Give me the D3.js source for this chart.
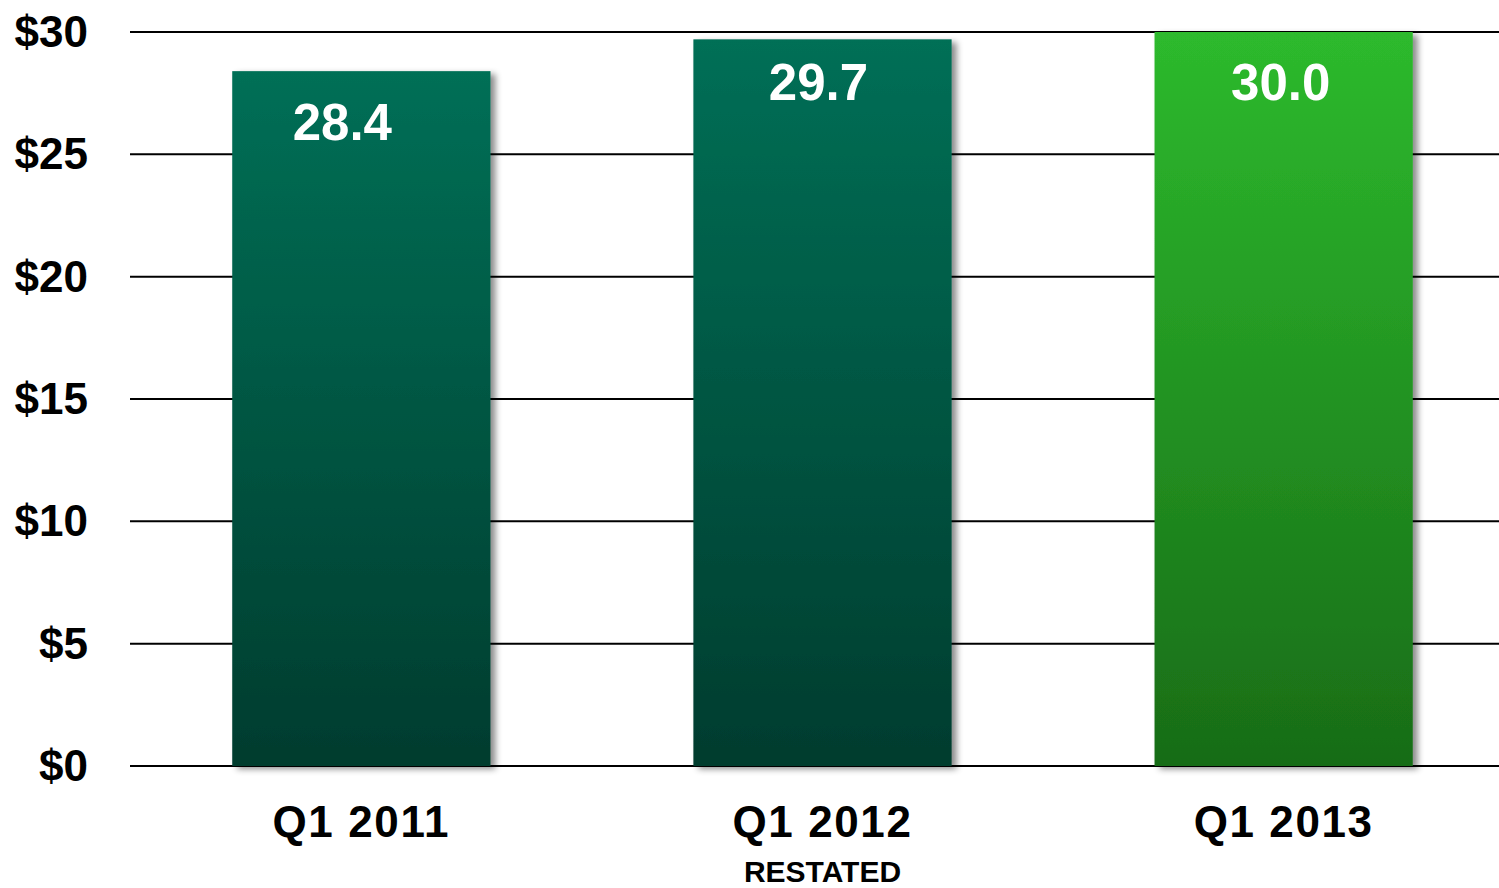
<!DOCTYPE html>
<html><head><meta charset="utf-8">
<script src="https://cdn.jsdelivr.net/npm/d3@7"></script>
<style>html,body{margin:0;padding:0;background:#fff;}svg{display:block;}</style>
</head><body>
<svg id="c" width="1499" height="888"></svg>
<script>
const categories = ["Q1 2011", "Q1 2012", "Q1 2013"];
const subLabels = ["", "RESTATED", ""];
const values = [28.4, 29.7, 30.0];
const valueLabels = ["28.4", "29.7", "30.0"];
const tickValues = [0, 5, 10, 15, 20, 25, 30];
const tickLabels = ["$0", "$5", "$10", "$15", "$20", "$25", "$30"];

const svg = d3.select("#c");
const font = "'Liberation Sans', Arial, sans-serif";
const x = d3.scaleBand().domain(categories).range([140, 1505]).paddingInner(0.44).paddingOuter(0.2);
const y = d3.scaleLinear().domain([0, 30]).range([766, 32]);

const defs = svg.append("defs");
const gradColors = [["#026F56", "#033C2E"], ["#026F56", "#033C2E"], ["#2DBA2D", "#186C17"]];
gradColors.forEach((c, i) => {
  const g = defs.append("linearGradient").attr("id", "g" + i).attr("x1", 0).attr("y1", 0).attr("x2", 0).attr("y2", 1);
  g.append("stop").attr("offset", "0%").attr("stop-color", c[0]);
  g.append("stop").attr("offset", "100%").attr("stop-color", c[1]);
});
const f = defs.append("filter").attr("id", "sh").attr("x", "-10%").attr("y", "-10%").attr("width", "130%").attr("height", "130%");
f.append("feDropShadow").attr("dx", 5).attr("dy", 3).attr("stdDeviation", 3).attr("flood-color", "#000").attr("flood-opacity", 0.45);

// gridlines
svg.append("g").selectAll("line").data(tickValues).join("line")
  .attr("x1", 130).attr("x2", 1499)
  .attr("y1", d => y(d)).attr("y2", d => y(d))
  .attr("stroke", "#000").attr("stroke-width", 2);

// y tick labels
svg.append("g").selectAll("text").data(tickValues).join("text")
  .attr("x", 88).attr("y", d => y(d) + 15)
  .attr("text-anchor", "end")
  .attr("font-family", font).attr("font-weight", "bold").attr("font-size", 44)
  .attr("fill", "#000")
  .text((d, i) => tickLabels[i]);

// bars
svg.append("g").selectAll("rect").data(values).join("rect")
  .attr("x", (d, i) => x(categories[i]))
  .attr("width", x.bandwidth())
  .attr("y", d => y(d))
  .attr("height", d => y(0) - y(d))
  .attr("fill", (d, i) => `url(#g${i})`)
  .attr("filter", "url(#sh)");

// value labels
const labelDx = [-19, -4, -3];
const labelDy = [69, 61, 68];
svg.append("g").selectAll("text").data(values).join("text")
  .attr("x", (d, i) => x(categories[i]) + x.bandwidth() / 2 + labelDx[i])
  .attr("y", (d, i) => y(d) + labelDy[i])
  .attr("text-anchor", "middle")
  .attr("font-family", font).attr("font-weight", "bold").attr("font-size", 51)
  .attr("fill", "#fff")
  .text((d, i) => valueLabels[i]);

// category labels
svg.append("g").selectAll("text").data(categories).join("text")
  .attr("x", d => x(d) + x.bandwidth() / 2)
  .attr("y", 837)
  .attr("text-anchor", "middle")
  .attr("font-family", font).attr("font-weight", "bold").attr("font-size", 44)
  .attr("letter-spacing", 1.6)
  .attr("fill", "#000")
  .text(d => d);

svg.append("g").selectAll("text").data(categories).join("text")
  .attr("x", d => x(d) + x.bandwidth() / 2)
  .attr("y", 882)
  .attr("text-anchor", "middle")
  .attr("font-family", font).attr("font-weight", "bold").attr("font-size", 30)
  .attr("fill", "#000")
  .text((d, i) => subLabels[i]);
</script>
</body></html>
